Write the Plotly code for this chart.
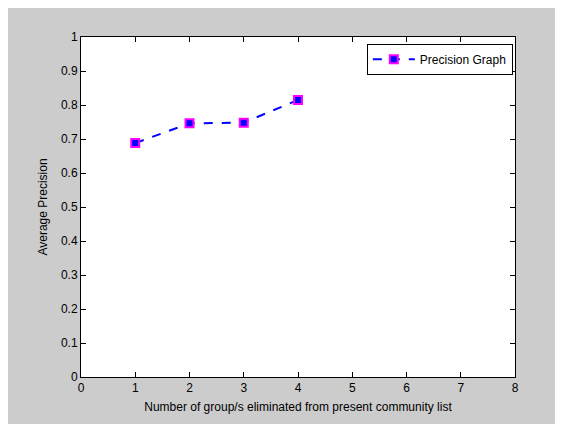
import plotly.graph_objects as go

x_vals = [1, 2, 3, 4]
precision = [0.688, 0.746, 0.748, 0.815]
series_name = "Precision Graph"
x_ticks = [0, 1, 2, 3, 4, 5, 6, 7, 8]
y_ticks = [0, 0.1, 0.2, 0.3, 0.4, 0.5, 0.6, 0.7, 0.8, 0.9, 1]
y_tick_labels = ["0", "0.1", "0.2", "0.3", "0.4", "0.5", "0.6", "0.7", "0.8", "0.9", "1"]

fig = go.Figure()
fig.add_trace(go.Scatter(
    x=x_vals, y=precision, mode="lines+markers", name=series_name,
    line=dict(color="#0000ff", width=2, dash="dash"),
    marker=dict(symbol="square", size=8, color="#0000ff",
                line=dict(color="#ff00ff", width=2)),
))

# page body has an 8px margin; compensate so the plot area lands where the reference has it
W, H = 555, 416
L, R, T, B = 73, 48, 29, 44

axis_common = dict(
    showgrid=False, zeroline=False, showline=True, linecolor="black", linewidth=1,
    mirror="ticks", ticks="inside", ticklen=5, tickcolor="black",
    tickfont=dict(family="Liberation Sans, Arial", size=12, color="black"),
)

fig.update_layout(
    width=W, height=H,
    margin=dict(l=L, r=R, t=T, b=B),
    paper_bgcolor="#cccccc", plot_bgcolor="white",
    font=dict(family="Liberation Sans, Arial", size=12, color="black"),
    xaxis=dict(range=[0, 8], tickvals=x_ticks, ticktext=[str(v) for v in x_ticks],
               title=dict(text="Number of group/s eliminated from present community list",
                          standoff=8, font=dict(size=12)), **axis_common),
    yaxis=dict(range=[0, 1], tickvals=y_ticks, ticktext=y_tick_labels,
               title=dict(text="Average Precision", standoff=10, font=dict(size=12)),
               **axis_common),
    showlegend=True,
    legend=dict(x=0.995, y=0.98, xanchor="right", yanchor="top",
                bgcolor="white", bordercolor="black", borderwidth=1,
                itemwidth=42, font=dict(size=12)),
)

fig.write_html("out.html")
